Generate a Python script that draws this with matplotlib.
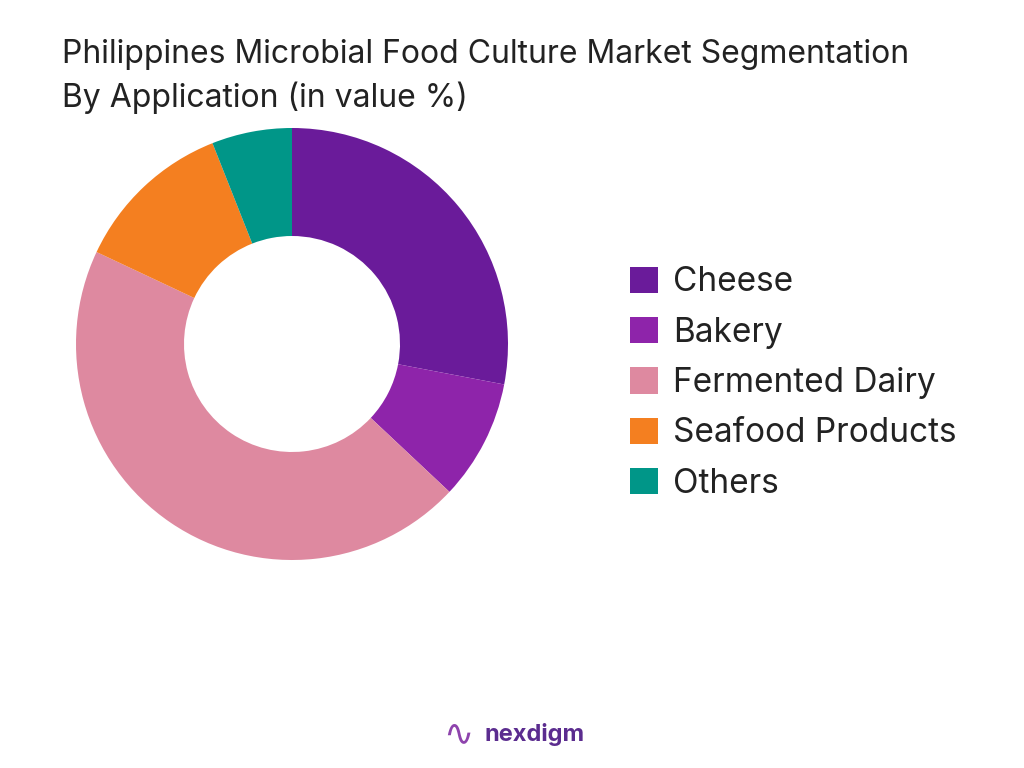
import matplotlib.pyplot as plt
from matplotlib.patches import Patch

labels = ['Cheese', 'Bakery', 'Fermented Dairy', 'Seafood Products', 'Others']
values = [28, 9, 45, 12, 6]
colors = ['#6A1B9A', '#8E24AA', '#DE89A0', '#F47F20', '#009688']

plt.rcParams['font.family'] = ['Inter', 'DejaVu Sans']

fig = plt.figure(figsize=(10.24, 7.68), dpi=100)
ax = fig.add_axes([292/1024 - 216/1024, 1 - (344 + 216)/768, 432/1024, 432/768])
ax.pie(values, colors=colors, startangle=90, counterclock=False,
       wedgeprops=dict(width=0.5, edgecolor='none'))
ax.set_xlim(-1, 1)
ax.set_ylim(-1, 1)
ax.set_aspect('equal')

fig.text(62/1024, 1 - 55/768, 'Philippines Microbial Food Culture Market Segmentation',
         fontsize=23, color='#222222', va='center')
fig.text(62/1024, 1 - 98/768, 'By Application (in value %)',
         fontsize=23, color='#222222', va='center')

handles = [Patch(facecolor=c, edgecolor='none') for c in colors]
fig.legend(handles, labels, loc='center left', bbox_to_anchor=(600/1024, 1 - 383/768),
           frameon=False, fontsize=24, handlelength=0.85, handleheight=0.85,
           labelspacing=0.55, handletextpad=0.45, labelcolor='#222222')

fig.text(535/1024, 1 - 735/768, 'nexdigm', fontsize=17, fontweight='bold',
         color='#5B2C8F', ha='center', va='center')
fig.text(458/1024, 1 - 735/768, '\u223F', fontsize=26, color='#8E44AD',
         ha='center', va='center')

fig.savefig('out.png', dpi=100)
